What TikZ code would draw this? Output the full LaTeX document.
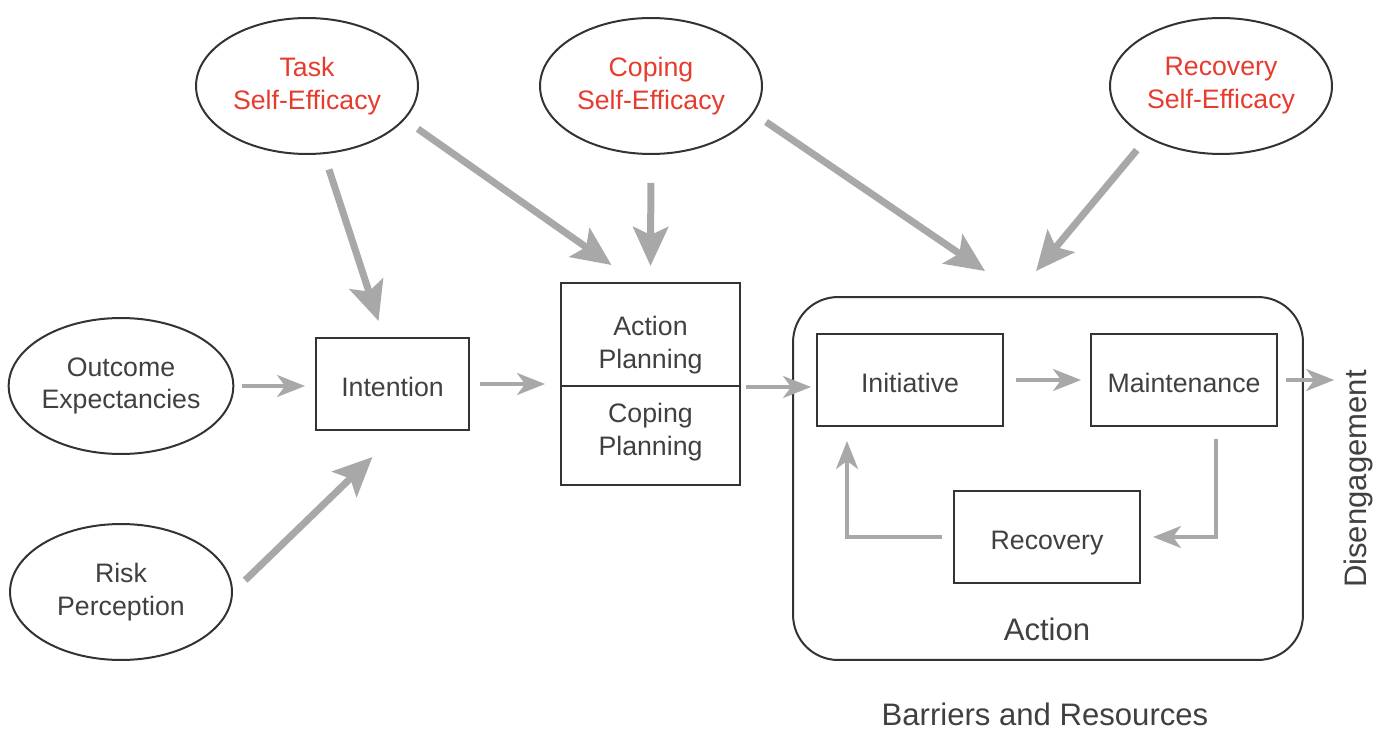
\documentclass[tikz,border=0pt]{standalone}
\usepackage{fontspec}
\setmainfont{Liberation Sans}
\usetikzlibrary{shapes.geometric,arrows.meta}
\definecolor{linecol}{HTML}{333333}
\definecolor{textcol}{HTML}{404040}
\definecolor{effcol}{HTML}{E63B2E}
\definecolor{arrcol}{HTML}{A8A8A8}
\begin{document}
\begin{tikzpicture}[x=0.02cm, y=-0.02cm,
  oval/.style={ellipse, draw=linecol, line width=0.4mm, minimum width=44.4mm, minimum height=27.2mm, inner sep=0pt, align=center, text=textcol, font=\fontsize{15.2pt}{18.7pt}\selectfont},
  box/.style={rectangle, draw=linecol, line width=0.4mm, minimum width=37.2mm, minimum height=18.4mm, inner sep=0pt, text height=13.9pt, text depth=0pt, align=center, text=textcol, font=\fontsize{15.2pt}{18.7pt}\selectfont},
  planbox/.style={rectangle, draw=linecol, line width=0.4mm, minimum width=35.8mm, inner sep=0pt},
  plantext/.style={inner sep=0pt, align=center, text=textcol, font=\fontsize{15.2pt}{18.7pt}\selectfont},
  biglabel/.style={inner sep=0pt, text=textcol, font=\fontsize{17.7pt}{21pt}\selectfont},
  bigarrow/.style={draw=arrcol, line width=1.4mm, -{Stealth[length=7.8mm, width=7mm, inset=1.6mm]}},
  thinarrow/.style={draw=arrcol, line width=0.7mm, -{Stealth[length=5.6mm, width=4.4mm, inset=1.6mm]}}]
\useasboundingbox (0,0) rectangle (1391,729);
\node[oval, text=effcol] (task) at (307,86) {Task\\Self-Efficacy};
\node[oval, text=effcol] (coping) at (651,86) {Coping\\Self-Efficacy};
\node[oval, text=effcol] (recse) at (1221,86) {Recovery\\Self-Efficacy};
\node[oval] (outcome) at (121,386) {Outcome\\Expectancies};
\node[oval] (risk) at (121,592) {Risk\\Perception};
\node[box, minimum width=30.6mm] (intention) at (392.5,384) {Intention};
\node[planbox, minimum height=20.6mm, label={[plantext, yshift=-2.1mm]center:Action\\Planning}] (actplan) at (650.5,334.5) {};
\node[planbox, minimum height=19.8mm, label={[plantext, yshift=0.6mm]center:Coping\\Planning}] (copplan) at (650.5,435.5) {};
\node[draw=linecol, line width=0.4mm, rounded corners=9mm, minimum width=102mm, minimum height=72.6mm] (action) at (1048,478.5) {};
\node[box] (initiative) at (910,380) {Initiative};
\node[box] (maintenance) at (1184,380) {Maintenance};
\node[box] (recovery) at (1047,537) {Recovery};
\node[biglabel] (actionlbl) at (1047,629) {Action};
\node[biglabel] (barriers) at (1045,714) {Barriers and Resources};
\node[biglabel, rotate=90] (dis) at (1358,479) {Disengagement};
% self-efficacy arrows
\draw[bigarrow, shorten <=3.2mm] (task.-76) -- ([shift={(-14,-16)}]intention.north);
\draw[bigarrow, shorten <=3.2mm] (task.-19.5) -- ([shift={(-39,-17)}]actplan.north);
\draw[bigarrow, shorten <=5.6mm] (coping.south) -- ([shift={(0,-16)}]actplan.north);
\draw[bigarrow, shorten <=3mm] (coping.-15) -- ([shift={(-63,-25)}]action.north);
\draw[bigarrow, shorten <=3.2mm] (recse.-145) -- ([shift={(-12,-25)}]action.north);
\draw[bigarrow, shorten <=3.4mm] (risk.east) -- ([shift={(-20,26)}]intention.south);
% process arrows
\draw[thinarrow, shorten <=1.6mm, shorten >=2mm] (outcome.east) -- (outcome.east -| intention.west);
\draw[thinarrow, shorten <=2mm, shorten >=3mm] (intention.east) -- (intention.east -| actplan.west);
\draw[thinarrow, shorten <=1mm, shorten >=1mm] (actplan.south east) -- (actplan.south east -| initiative.west);
\draw[thinarrow, shorten <=2.4mm, shorten >=1.8mm] (initiative) -- (maintenance);
\draw[thinarrow, shorten <=1.6mm, shorten >=1.8mm] (maintenance.east) -- (maintenance.east -| dis.north);
\draw[thinarrow, shorten <=2.4mm, shorten >=2.4mm] ([xshift=6.4mm]maintenance.south) |- (recovery.east);
\draw[thinarrow, shorten <=2.2mm, shorten >=2.8mm] (recovery.west) -| ([xshift=6.2mm]initiative.south west);
\end{tikzpicture}
\end{document}
